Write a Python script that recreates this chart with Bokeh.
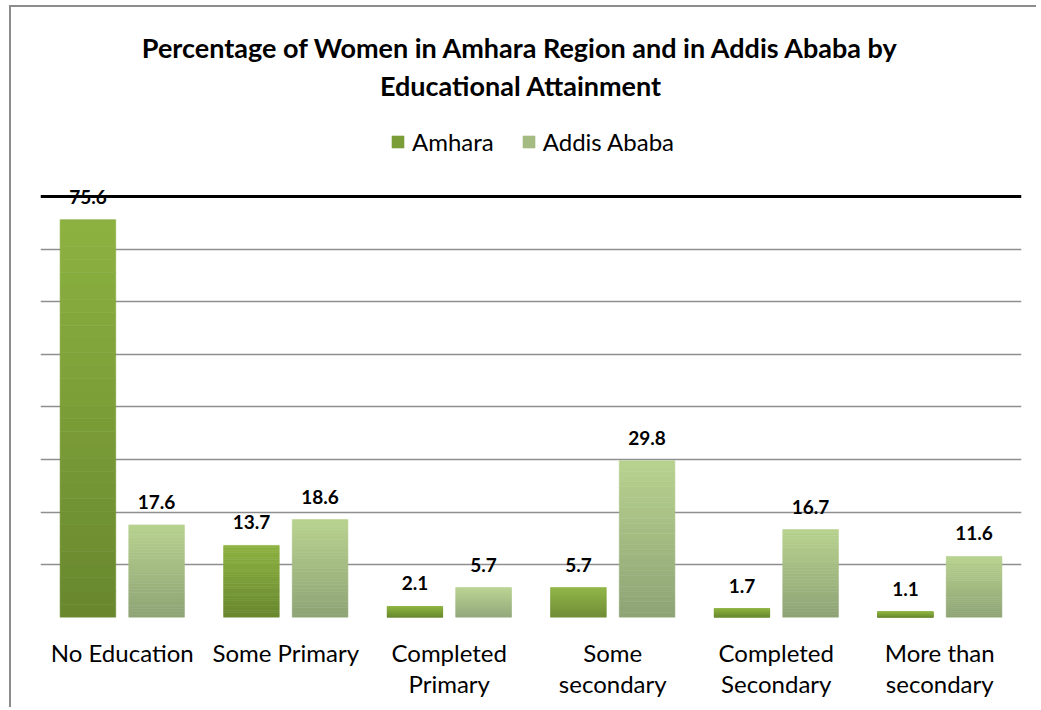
import numpy as np
from bokeh.plotting import figure
from bokeh.models import ColumnDataSource, Range1d, FixedTicker, Span, Legend, LegendItem
from bokeh.core.properties import value
from bokeh.embed import file_html
from bokeh.resources import INLINE

# ---------------- data ----------------
categories = ["No Education", "Some Primary", "Completed\nPrimary",
              "Some\nsecondary", "Completed\nSecondary", "More than\nsecondary"]
series_names = ["Amhara", "Addis Ababa"]
amhara = [75.6, 13.7, 2.1, 5.7, 1.7, 1.1]
addis = [17.6, 18.6, 5.7, 29.8, 16.7, 11.6]
grid_values = [0, 10, 20, 30, 40, 50, 60, 70]
top_value = 80
title_text = "Percentage of Women in Amhara Region and in Addis Ababa by\nEducational Attainment"

# ---------------- style ----------------
FONT = "Lato"
amhara_bottom, amhara_top = (104, 135, 46), (141, 178, 65)
addis_bottom, addis_top = (142, 163, 117), (184, 210, 143)
BAR_W = 0.34
DODGE = 0.21
N_SLICES = 30

p = figure(frame_width=981, frame_height=607,
           x_range=Range1d(0, len(categories)), y_range=Range1d(0, 115.34),
           output_backend="svg", toolbar_location=None,
           min_border_left=29, min_border_right=15, min_border_top=3, min_border_bottom=90)
p.styles = {"border-top": "2px solid #8c8c8c", "border-left": "2px solid #8c8c8c",
            "margin-left": "9px", "margin-top": "5px"}
p.outline_line_color = None
p.background_fill_color = "white"
p.border_fill_color = "white"
p.xgrid.visible = False
p.yaxis.visible = False
p.ygrid.ticker = FixedTicker(ticks=grid_values)
p.ygrid.grid_line_color = "#8f8f8f"
p.ygrid.grid_line_width = 1.6

p.xaxis.ticker = FixedTicker(ticks=[i + 0.5 for i in range(len(categories))])
p.xaxis.major_label_overrides = {i + 0.5: c for i, c in enumerate(categories)}
p.xaxis.axis_line_color = None
p.xaxis.major_tick_line_color = None
p.xaxis.minor_tick_line_color = None
p.xaxis.major_label_text_font = FONT
p.xaxis.major_label_text_font_size = "24px"
p.xaxis.major_label_text_color = "black"
p.xaxis.major_label_standoff = 14
p.xaxis.major_label_text_line_height = 1.1


def hexcol(c):
    return "#%02x%02x%02x" % c


def gradient_source(values, offset, c_bottom, c_top, n=N_SLICES):
    xs, bottoms, tops, colors = [], [], [], []
    for i, v in enumerate(values):
        for k in range(n):
            t = (k + 0.5) / n
            col = tuple(int(round(b + (tp - b) * t)) for b, tp in zip(c_bottom, c_top))
            xs.append(i + 0.5 + offset)
            bottoms.append(v * k / n)
            tops.append(v * (k + 1) / n)
            colors.append(hexcol(col))
    return ColumnDataSource(dict(x=xs, bottom=bottoms, top=tops, color=colors))


bar_renderers = []
for vals, off, cb, ct in [(amhara, -DODGE, amhara_bottom, amhara_top),
                          (addis, DODGE, addis_bottom, addis_top)]:
    src = gradient_source(vals, off, cb, ct)
    r = p.vbar(x="x", bottom="bottom", top="top", width=BAR_W, source=src,
               fill_color="color", line_color="color", line_width=0.6)
    bar_renderers.append(r)
    lab = ColumnDataSource(dict(x=[i + 0.5 + off for i in range(len(vals))], y=vals,
                                t=[f"{v:.1f}" for v in vals]))
    p.text(x="x", y="y", text="t", source=lab, text_align="center",
           text_baseline="alphabetic", y_offset=-23, text_font=value(FONT),
           text_font_style="bold", text_font_size="19px", text_color="black")

p.add_layout(Span(location=top_value, dimension="width", line_color="black", line_width=3))

# title
p.text(x=[len(categories) / 2], y=[104.66], text=[title_text], text_align="center",
       text_baseline="middle", x_offset=-10, text_font=value(FONT), text_font_style="bold",
       text_font_size="27px", text_line_height=1.15, text_color="black")

# legend
legend = Legend(items=[LegendItem(label=series_names[0], renderers=[bar_renderers[0]], index=N_SLICES // 2),
                       LegendItem(label=series_names[1], renderers=[bar_renderers[1]], index=N_SLICES // 2)],
                location=(350, 461), orientation="horizontal",
                glyph_width=15, glyph_height=15, label_standoff=7, spacing=27,
                padding=0, margin=0, border_line_color=None, background_fill_alpha=0,
                label_text_font=FONT, label_text_font_size="24px", label_text_color="black")
p.add_layout(legend)

open("out.html", "w").write(file_html(p, INLINE))
